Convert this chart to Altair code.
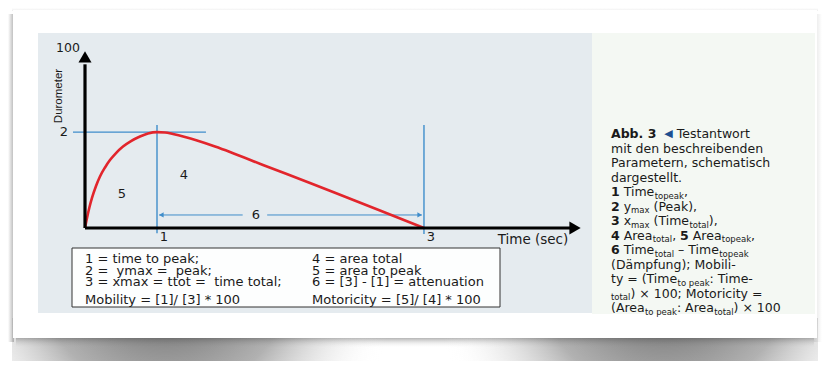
import re
import altair as alt
import pandas as pd

# ---------------- data (schematic: time axis in units of time-to-peak) ----------------
curve_t = [0, 0.028, 0.0625, 0.097, 0.153, 0.208, 0.278, 0.347, 0.431, 0.528, 0.639,
           0.764, 0.875, 1.0, 1.111, 1.222, 1.389, 1.556, 1.806, 2.014, 2.472, 3.125,
           3.639, 4.097, 4.708]
curve_v = [0, 5.7, 11.9, 17.1, 23.9, 29.3, 34.4, 38.6, 42.6, 46.3, 49.4,
           52.0, 53.7, 54.5, 54.3, 53.4, 51.7, 49.7, 46.3, 43.2, 35.8, 25.6,
           17.3, 9.9, 0]
peak_t = 1.0
total_t = 4.708
peak_v = 54.5
y_max_label = "100"
peak_label = "2"
tick_labels = ["1", "3"]
x_title = "Time (sec)"
y_title = "Durometer"
area_labels = ["4", "5"]
area_label_t = [1.375, 0.514]
area_label_v = [30.1, 19.3]
atten_label = "6"
atten_v = 7.4

legend_left = ["1 = time to peak;", "2 =\u00a0 ymax =\u00a0 peak;",
               "3 = xmax = ttot =\u00a0 time total;", "Mobility = [1]/ [3] * 100"]
legend_right = ["4 = area total", "5 = area to peak",
                "6 = [3] - [1] = attenuation", "Motoricity = [5]/ [4] * 100"]

# caption: **bold**, _{subscript}
caption_lines = [
    "**Abb. 3** \u25c0 Testantwort",
    "mit den beschreibenden",
    "Parametern, schematisch",
    "dargestellt.",
    "**1** Time_{topeak},",
    "**2** y_{max} (Peak),",
    "**3** x_{max} (Time_{total}),",
    "**4** Area_{total}, **5** Area_{topeak},",
    "**6** Time_{total} \u2013 Time_{topeak}",
    "(D\u00e4mpfung); Mobili-",
    "ty = (Time_{to peak}: Time-",
    "_{total}) \u00d7 100; Motoricity =",
    "(Area_{to peak}: Area_{total}) \u00d7 100",
]

# ---------------- layout ----------------
CAP_X, CAP_Y0, CAP_DY = 603, 126, 14.5
CAP_FS, SUB_FS, ARROW_FS, SUB_DY = 12.5, 8.5, 11, 3.5
XS = alt.Scale(domain=[0, 1], range=[77, 149], nice=False, zero=False)
YS = alt.Scale(domain=[0, 100], range=[220, 44], nice=False, zero=False)
BLUE = "#3f8dcb"
RED = "#e2252c"
FONT = "DejaVu Sans"
one = pd.DataFrame({"a": [0]})

# approximate DejaVu Sans advance widths (em) used to lay out mixed-style caption lines
W_N = {" ": .318, "(": .390, ")": .390, ",": .318, ".": .318, ":": .337, "-": .361,
       "\u2013": .5, "=": .838, "\u00d7": .838, "\u00e4": .613, "\u25c0": .77,
       "A": .684, "M": .863, "T": .611, "P": .603, "D": .770,
       "a": .613, "b": .635, "c": .550, "d": .635, "e": .615, "f": .352, "g": .635,
       "h": .634, "i": .278, "k": .579, "l": .278, "m": .974, "n": .634, "o": .612,
       "p": .635, "r": .411, "s": .521, "t": .392, "u": .634, "w": .818, "x": .592,
       "y": .592}
W_N.update({d: .636 for d in "0123456789"})
W_B = {" ": .348, ".": .381, "A": .774, "b": .716}
W_B.update({d: .696 for d in "0123456789"})


def tw(s, size, bold=False):
    tab = W_B if bold else W_N
    return sum(tab.get(c, W_N.get(c, .6)) for c in s) * size


rows = []
for i, line in enumerate(caption_lines):
    x = CAP_X
    y = CAP_Y0 + CAP_DY * i
    for m in re.finditer(r"\*\*(.+?)\*\*|_\{(.+?)\}|(\u25c0)|([^*_\u25c0]+)", line):
        b, sub, arr, nor = m.groups()
        if b:
            kind, s, size = "bold", b, CAP_FS
        elif sub:
            kind, s, size = "sub", sub, SUB_FS
        elif arr:
            kind, s, size = "arrow", arr, ARROW_FS
        else:
            kind, s, size = "normal", nor, CAP_FS
        x += (len(s) - len(s.lstrip(" "))) * tw(" ", CAP_FS)
        core = s.strip(" ")
        if core:
            rows.append(dict(s=core, px=x, py=y + (SUB_DY if kind == "sub" else 0), kind=kind))
            x += tw(core, size, kind == "bold")
        x += (len(s) - len(s.rstrip(" "))) * tw(" ", CAP_FS)
cap = pd.DataFrame(rows)


def X(f="t"):
    return alt.X(f + ":Q", scale=XS, axis=None)


def Y(f="v"):
    return alt.Y(f + ":Q", scale=YS, axis=None)


def rect(x, x2, y, y2, **kw):
    return alt.Chart(one).mark_rect(**kw).encode(
        x=alt.value(x), x2=alt.value(x2), y=alt.value(y), y2=alt.value(y2))


def grad(stops, vertical=True):
    return alt.Gradient(gradient="linear",
                        stops=[alt.GradientStop(color=c, offset=o) for o, c in stops],
                        x1=0, y1=0, x2=0 if vertical else 1, y2=1 if vertical else 0)


def rgrad(cx, cy, r, stops):
    return alt.Gradient(gradient="radial",
                        stops=[alt.GradientStop(color=c, offset=o) for o, c in stops],
                        x1=cx, y1=cy, r1=0, x2=cx, y2=cy, r2=r)


W0 = "rgba(255,255,255,0)"
SH = [(0, "rgba(55,55,55,0.9)"), (0.55, "rgba(100,100,100,0.5)"), (1, "rgba(255,255,255,0)")]
layers = []
# card shadows
layers.append(rect(0, 6, 6, 334, fill=grad([(0, "#ffffff"), (1, "#b5b5b5")], vertical=False)))
layers.append(rect(806, 814, 6, 334, fill=grad([(0, "#e4e4e4"), (1, "#ffffff")], vertical=False)))
layers.append(rect(8, 806, 330, 340, fill=grad([(0, "rgba(130,130,130,0.6)"), (1, W0)])))
layers.append(rect(4, 470, 310, 366, fill=rgrad(0.33, 0.33, 0.5, SH)))
layers.append(rect(344, 810, 310, 366, fill=rgrad(0.67, 0.33, 0.5, SH)))
layers.append(rect(4, 810, 0, 3, fill=grad([(0, "#ffffff"), (1, "#ececec")])))
# card and panels
layers.append(rect(5, 809, 2, 330, fill="#ffffff"))
layers.append(rect(30, 584, 25, 305, fill="#e5ebef"))
layers.append(rect(584, 807, 25, 306, fill="#f4f8f3"))

# blue construction lines
layers.append(alt.Chart(pd.DataFrame({"t": [-0.167], "t2": [1.68], "v": [peak_v]}))
              .mark_rule(color=BLUE, strokeWidth=1.2)
              .encode(x=X(), x2="t2:Q", y=Y()))
layers.append(alt.Chart(pd.DataFrame({"t": [peak_t, total_t], "v": [58.5, 58.5], "v2": [-3, -3.4]}))
              .mark_rule(color=BLUE, strokeWidth=1.4)
              .encode(x=X(), y=Y(), y2="v2:Q"))
layers.append(alt.Chart(pd.DataFrame({"t": [peak_t + 0.03, 2.53], "t2": [2.19, total_t - 0.03],
                                      "v": [atten_v, atten_v]}))
              .mark_rule(color=BLUE, strokeWidth=1)
              .encode(x=X(), x2="t2:Q", y=Y()))
layers.append(alt.Chart(pd.DataFrame({"t": [peak_t + 0.06], "v": [atten_v]}))
              .mark_point(shape="triangle-left", filled=True, size=28, color=BLUE, opacity=1)
              .encode(x=X(), y=Y()))
layers.append(alt.Chart(pd.DataFrame({"t": [total_t - 0.06], "v": [atten_v]}))
              .mark_point(shape="triangle-right", filled=True, size=28, color=BLUE, opacity=1)
              .encode(x=X(), y=Y()))

# curve
layers.append(alt.Chart(pd.DataFrame({"t": curve_t, "v": curve_v}))
              .mark_line(color=RED, strokeWidth=2.6, interpolate="monotone")
              .encode(x=X(), y=Y()))

# axes
layers.append(alt.Chart(pd.DataFrame({"t": [0], "v": [0], "v2": [93]}))
              .mark_rule(color="#000000", strokeWidth=3.2).encode(x=X(), y=Y(), y2="v2:Q"))
layers.append(alt.Chart(pd.DataFrame({"t": [0], "t2": [6.76], "v": [0]}))
              .mark_rule(color="#000000", strokeWidth=3.2).encode(x=X(), x2="t2:Q", y=Y()))
layers.append(alt.Chart(pd.DataFrame({"t": [0], "v": [97.2]}))
              .mark_point(shape="triangle-up", filled=True, size=170, color="#000000", opacity=1)
              .encode(x=X(), y=Y()))
layers.append(alt.Chart(pd.DataFrame({"t": [6.806], "v": [0]}))
              .mark_point(shape="triangle-right", filled=True, size=170, color="#000000", opacity=1)
              .encode(x=X(), y=Y()))

txt = dict(font=FONT, color="#1a1a1a", baseline="middle")
layers.append(alt.Chart(pd.DataFrame({"v": [100], "s": [y_max_label]}))
              .mark_text(fontSize=12.5, align="center", dy=-4, **txt)
              .encode(x=alt.value(60), y=Y(), text="s:N"))
layers.append(alt.Chart(pd.DataFrame({"v": [peak_v], "s": [peak_label]}))
              .mark_text(fontSize=13, align="center", **txt)
              .encode(x=alt.value(56), y=Y(), text="s:N"))
layers.append(alt.Chart(pd.DataFrame({"t": [peak_t, total_t], "s": tick_labels}))
              .mark_text(fontSize=13, align="center", dx=7, **txt)
              .encode(x=X(), y=alt.value(229), text="s:N"))
layers.append(alt.Chart(pd.DataFrame({"t": area_label_t, "v": area_label_v, "s": area_labels}))
              .mark_text(fontSize=13, align="center", **txt)
              .encode(x=X(), y=Y(), text="s:N"))
layers.append(alt.Chart(pd.DataFrame({"t": [2.375], "v": [atten_v], "s": [atten_label]}))
              .mark_text(fontSize=13, align="center", **txt)
              .encode(x=X(), y=Y(), text="s:N"))
layers.append(alt.Chart(pd.DataFrame({"s": [x_title]}))
              .mark_text(fontSize=13.5, align="center", **txt)
              .encode(x=alt.value(525), y=alt.value(232), text="s:N"))
layers.append(alt.Chart(pd.DataFrame({"s": [y_title]}))
              .mark_text(fontSize=11.5, align="center", angle=270, font="Liberation Sans",
                         color="#1a1a1a", baseline="middle")
              .encode(x=alt.value(51), y=alt.value(88), text="s:N"))

# legend box
layers.append(rect(64, 492, 240, 299, fill="#fdfefe", stroke="#333333", strokeWidth=1))
leg_y = [251, 262.5, 274, 291.5]
layers.append(alt.Chart(pd.DataFrame({"s": legend_left + legend_right,
                                      "px": [77] * 4 + [304] * 4, "py": leg_y * 2}))
              .mark_text(fontSize=13, align="left", **txt)
              .encode(x=alt.X("px:Q", scale=None), y=alt.Y("py:Q", scale=None), text="s:N"))

# caption
PX = alt.X("px:Q", scale=None)
PY = alt.Y("py:Q", scale=None)
layers.append(alt.Chart(cap[cap.kind == "normal"])
              .mark_text(fontSize=CAP_FS, align="left", **txt)
              .encode(x=PX, y=PY, text="s:N"))
layers.append(alt.Chart(cap[cap.kind == "bold"])
              .mark_text(fontSize=CAP_FS, align="left", fontWeight="bold", **txt)
              .encode(x=PX, y=PY, text="s:N"))
layers.append(alt.Chart(cap[cap.kind == "sub"])
              .mark_text(fontSize=SUB_FS, align="left", **txt)
              .encode(x=PX, y=PY, text="s:N"))
layers.append(alt.Chart(cap[cap.kind == "arrow"])
              .mark_text(fontSize=ARROW_FS, align="left", font=FONT, color="#1d4f91", baseline="middle")
              .encode(x=PX, y=PY, text="s:N"))

chart = alt.layer(*layers).properties(
    width=814, height=353, padding=0, autosize="none", background="#ffffff"
).configure_view(stroke=None)

chart.save("out.html", embed_options={"renderer": "svg", "actions": False})
